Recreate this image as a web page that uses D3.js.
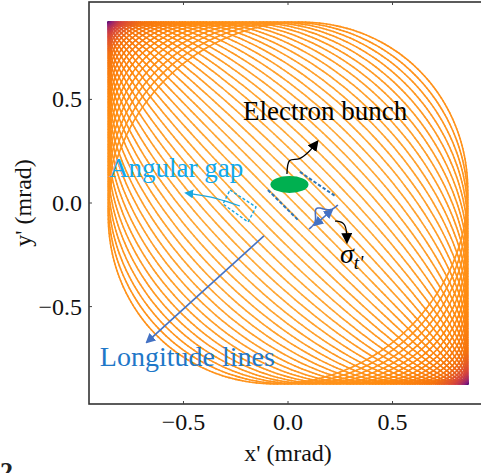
<!DOCTYPE html>
<html>
<head>
<meta charset="utf-8">
<script src="https://cdn.jsdelivr.net/npm/d3@7/dist/d3.min.js"></script>
<style>
  html, body { margin: 0; padding: 0; background: #fff; overflow: hidden; }
  text { font-family: "Liberation Serif", "Times New Roman", serif; }
</style>
</head>
<body>
<svg id="chart" width="481" height="473"></svg>
<script>
// Phase offset (degrees) between the x' and y' oscillations of each trajectory
const phaseDeg = [2, 6, 10, 14, 18, 22, 26, 30, 34, 38, 42, 46, 50, 54, 58,
                  62, 66, 70, 74, 78, 82, 86, 90, 94];
// Oscillation amplitudes (mrad)
const ampX = 0.86;
const ampY = 0.873;
// Axis ticks
const xTicks = [-0.5, 0.0, 0.5];
const yTicks = [-0.5, 0.0, 0.5];
const xTickLabels = ["−0.5", "0.0", "0.5"];
const yTickLabels = ["−0.5", "0.0", "0.5"];
// Colour ramp for normalised angular speed along a trajectory
const speedStops = [0, 0.13, 0.27, 0.42, 0.6, 1];
const speedColors = ["#3a0a6c", "#8e1f79", "#d6453c", "#f5740f", "#ff8a10", "#ffad3c"];

const svg = d3.select("#chart");

const x = d3.scaleLinear().domain([-0.952, 0.952]).range([89, 487]);
const y = d3.scaleLinear().domain([-0.97, 0.97]).range([404, 2]);
const color = d3.scaleLinear().domain(speedStops).range(speedColors).clamp(true);

// ---- trajectories: x' = A cos t, y' = -A cos(t + phi), coloured by speed ----
const steps = 320;
const curves = svg.append("g").attr("class", "curves")
  .attr("fill", "none").attr("stroke-width", 1.6).attr("stroke-linecap", "round");

phaseDeg.forEach(pd => {
  const phi = pd * Math.PI / 180;
  const segs = [];
  for (let i = 0; i < steps; i++) {
    const t0 = 2 * Math.PI * i / steps, t1 = 2 * Math.PI * (i + 1) / steps;
    const tm = (t0 + t1) / 2;
    const sp = Math.sqrt(Math.sin(tm) ** 2 + Math.sin(tm + phi) ** 2) / Math.SQRT2;
    segs.push({
      x0: ampX * Math.cos(t0), y0: -ampY * Math.cos(t0 + phi),
      x1: ampX * Math.cos(t1), y1: -ampY * Math.cos(t1 + phi),
      s: sp
    });
  }
  curves.append("g").selectAll("line").data(segs).join("line")
    .attr("x1", d => x(d.x0)).attr("y1", d => y(d.y0))
    .attr("x2", d => x(d.x1)).attr("y2", d => y(d.y1))
    .attr("stroke", d => color(d.s));
});

// ---- frame and inward ticks ----
const [xl, xr] = x.range();
const [yb, yt] = y.range();
svg.append("rect").attr("x", xl).attr("y", yt).attr("width", xr - xl).attr("height", yb - yt)
  .attr("fill", "none").attr("stroke", "#333").attr("stroke-width", 1.6);

const tk = svg.append("g").attr("stroke", "#444").attr("stroke-width", 1);
xTicks.forEach(v => {
  tk.append("line").attr("x1", x(v)).attr("x2", x(v)).attr("y1", yb).attr("y2", yb - 3);
  tk.append("line").attr("x1", x(v)).attr("x2", x(v)).attr("y1", yt).attr("y2", yt + 3);
});
yTicks.forEach(v => {
  tk.append("line").attr("x1", xl).attr("x2", xl + 3).attr("y1", y(v)).attr("y2", y(v));
});

svg.append("g").selectAll("text").data(xTicks).join("text")
  .attr("x", d => x(d)).attr("y", 430).attr("text-anchor", "middle")
  .attr("font-size", 24).attr("fill", "#111")
  .text((d, i) => xTickLabels[i]);
svg.append("g").selectAll("text").data(yTicks).join("text")
  .attr("x", 82).attr("y", d => y(d) + 8).attr("text-anchor", "end")
  .attr("font-size", 24).attr("fill", "#111")
  .text((d, i) => yTickLabels[i]);

svg.append("text").attr("x", 288).attr("y", 461).attr("text-anchor", "middle")
  .attr("font-size", 24).attr("fill", "#111").text("x' (mrad)");
svg.append("text").attr("transform", "translate(31,203) rotate(-90)")
  .attr("text-anchor", "middle").attr("font-size", 24).attr("fill", "#111").text("y' (mrad)");

svg.append("text").attr("x", 0).attr("y", 480).attr("font-size", 26)
  .attr("font-weight", "bold").attr("fill", "#222").text("2");

// ---- annotations ----
const defs = svg.append("defs");
function marker(id, fill, size) {
  defs.append("marker").attr("id", id).attr("viewBox", "0 0 10 10")
    .attr("refX", 8).attr("refY", 5).attr("markerWidth", size).attr("markerHeight", size)
    .attr("orient", "auto-start-reverse").attr("markerUnits", "userSpaceOnUse")
    .append("path").attr("d", "M0,0 L10,5 L0,10 z").attr("fill", fill);
}
marker("arrBlack", "#000", 11);
marker("arrBlue", "#4472c4", 10);
marker("arrCyan", "#1aa7e0", 9);

const P = (a, b) => [x(a), y(b)];
const curve = d3.line().curve(d3.curveCatmullRom.alpha(0.5));

// Electron bunch
svg.append("ellipse").attr("cx", x(0.007)).attr("cy", y(0.089))
  .attr("rx", x(0.098) - x(0.007)).attr("ry", y(0.089) - y(0.13)).attr("fill", "#00b050");
svg.append("path")
  .attr("d", curve([P(-0.005, 0.140), P(0.008, 0.205), P(0.055, 0.214), P(0.098, 0.246), P(0.14, 0.296)]))
  .attr("fill", "none").attr("stroke", "#000").attr("stroke-width", 1.3)
  .attr("marker-end", "url(#arrBlack)");
svg.append("text").attr("x", x(-0.215)).attr("y", y(0.401))
  .attr("font-size", 27).attr("fill", "#000").text("Electron bunch");

// Dashed bounds of the bunch
[[P(0.057, 0.150), P(0.225, 0.034)], [P(-0.096, 0.063), P(0.053, -0.087)]].forEach(s => {
  svg.append("line").attr("x1", s[0][0]).attr("y1", s[0][1]).attr("x2", s[1][0]).attr("y2", s[1][1])
    .attr("stroke", "#2e75b6").attr("stroke-width", 2).attr("stroke-dasharray", "3.5,2");
});

// Angular-divergence profile
{
  const b0 = P(0.1005, -0.1255), b1 = P(0.239, -0.0097);
  const ux = b1[0] - b0[0], uy = b1[1] - b0[1];
  const L = Math.hypot(ux, uy);
  const nx = uy / L, ny = -ux / L;
  const pts = d3.range(0, 1.0001, 0.02).map(u => {
    const g = 11 * Math.exp(-((u - 0.5) ** 2) / (2 * 0.13 ** 2));
    return [b0[0] + ux * u + nx * g, b0[1] + uy * u + ny * g];
  });
  svg.append("path").attr("d", d3.line()(pts)).attr("fill", "none")
    .attr("stroke", "#4a6fc0").attr("stroke-width", 1.6);
  const a0 = P(0.129, -0.106), a1 = P(0.2105, -0.0338);
  svg.append("line").attr("x1", a0[0]).attr("y1", a0[1]).attr("x2", a1[0]).attr("y2", a1[1])
    .attr("stroke", "#4472c4").attr("stroke-width", 1.6)
    .attr("marker-start", "url(#arrBlue)").attr("marker-end", "url(#arrBlue)");
}
svg.append("path")
  .attr("d", d3.line().curve(d3.curveBasis)([P(0.225, -0.087), P(0.28, -0.092), P(0.282, -0.188)]))
  .attr("fill", "none").attr("stroke", "#000").attr("stroke-width", 1.3)
  .attr("marker-end", "url(#arrBlack)");
{
  const t = svg.append("text").attr("x", x(0.249)).attr("y", y(-0.29))
    .attr("font-size", 28).attr("font-style", "italic").attr("fill", "#000");
  t.append("tspan").text("σ");
  t.append("tspan").attr("font-size", 19).attr("dy", 6).text("t'");
}

// Angular gap
{
  const c = [P(-0.2775, 0.0627), P(-0.153, -0.0193), P(-0.191, -0.0917), P(-0.311, -0.0048)];
  svg.append("path").attr("d", "M" + c.map(p => p.join(",")).join("L") + "Z")
    .attr("fill", "none").attr("stroke", "#1aa7e0").attr("stroke-width", 1.4)
    .attr("stroke-dasharray", "3,2");
  svg.append("path")
    .attr("d", d3.line().curve(d3.curveBasis)([P(-0.23, -0.0145), P(-0.373, 0.0338), P(-0.488, 0.048)]))
    .attr("fill", "none").attr("stroke", "#1aa7e0").attr("stroke-width", 1.3)
    .attr("marker-end", "url(#arrCyan)");
  svg.append("text").attr("x", x(-0.856)).attr("y", y(0.125))
    .attr("font-size", 27).attr("fill", "#12a9ec").text("Angular gap");
}

// Longitude lines
{
  const s0 = P(-0.115, -0.159), s1 = P(-0.675, -0.671);
  svg.append("line").attr("x1", s0[0]).attr("y1", s0[1]).attr("x2", s1[0]).attr("y2", s1[1])
    .attr("stroke", "#4472c4").attr("stroke-width", 1.6).attr("marker-end", "url(#arrBlue)");
  svg.append("text").attr("x", x(-0.9)).attr("y", y(-0.787))
    .attr("font-size", 28).attr("fill", "#1f78c8").text("Longitude lines");
}
</script>
</body>
</html>
